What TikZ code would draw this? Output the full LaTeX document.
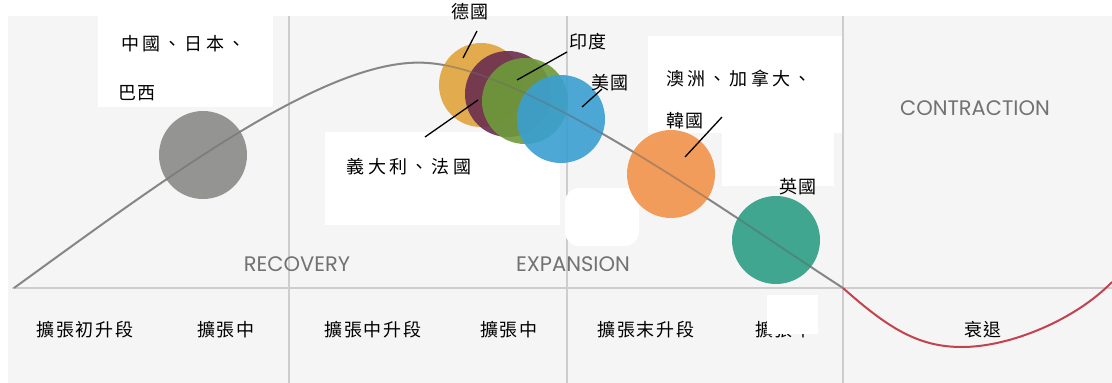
\documentclass[tikz,border=0pt]{standalone}
\usepackage{fontspec}
\newfontfamily\cjk{Noto Sans CJK TC}
\newfontfamily\gsans{Poppins}
\definecolor{bgpanel}{HTML}{F5F5F5}
\definecolor{gridc}{HTML}{CDCDCD}
\definecolor{curvec}{HTML}{9A9A9A}
\definecolor{redc}{HTML}{C4424E}
\definecolor{cgray}{HTML}{8A8A88}
\definecolor{cyel}{HTML}{E0A43C}
\definecolor{cpur}{HTML}{6A2E4E}
\definecolor{cgrn}{HTML}{6E9B3A}
\definecolor{cblu}{HTML}{3A9FD2}
\definecolor{cora}{HTML}{F1934B}
\definecolor{cteal}{HTML}{2E9E86}
\definecolor{phasec}{HTML}{727272}
\begin{document}
\begin{tikzpicture}[x=1pt,y=-1pt,
  lbl/.style={font=\cjk\fontsize{18}{18}\selectfont\addfontfeature{LetterSpace=10}, text=black, inner sep=0pt},
  lblwide/.style={font=\cjk\fontsize{18}{18}\selectfont\addfontfeature{LetterSpace=18}, text=black, inner sep=0pt},
  phase/.style={font=\gsans\fontsize{21}{21}\selectfont, text=phasec, inner sep=0pt},
  ball/.style={circle, minimum size=88pt, inner sep=0pt, draw=none, opacity=0.9},
  lead/.style={draw=black, line width=1.3pt},
  wbox/.style={fill=white, draw=none},
  gridline/.style={draw=gridc, line width=1.8pt}]
\useasboundingbox (0,0) rectangle (1112,383);
\fill[white] (0,0) rectangle (1112,383);
\fill[bgpanel] (8,16) rectangle (1112,383);
% grid
\draw[gridline] (289,16) -- (289,383);
\draw[gridline] (567,16) -- (567,383);
\draw[gridline] (843,16) -- (843,383);
\draw[gridline, line width=2.5pt] (12,288) -- (1112,288);
% white text boxes
\fill[wbox] (98,16) rectangle (273,107);
\fill[wbox] (325,132) rectangle (560,225);
\fill[wbox] (648,36) rectangle (842,133);
\fill[wbox] (722,133) rectangle (834,186);
\fill[wbox, rounded corners=14pt] (565,188) rectangle (639,246);
% phase labels
\node[phase] (rec) at (297,264) {RECOVERY};
\node[phase] (exp) at (573,264) {EXPANSION};
\node[phase] (con) at (975,108) {CONTRACTION};
% curve
\draw[curvec, line width=2pt] (14,288) .. controls (170,175) and (330,55) .. (428,63)
   .. controls (530,70) and (730,215) .. (843,288);
\draw[redc, line width=2pt] (843,288) .. controls (890,330) and (920,347) .. (962,347)
   .. controls (1010,347) and (1075,320) .. (1112,282);
% circles
\node[ball, fill=cgray] (cn) at (203,155) {};
\node[ball, fill=cyel, minimum size=84pt] (de) at (481,85) {};
\node[ball, fill=cpur, minimum size=86pt] (it) at (508,94) {};
\node[ball, fill=cgrn, minimum size=86pt] (in) at (525,101) {};
\node[ball, fill=cblu] (us) at (561,119) {};
\node[ball, fill=cora] (au) at (671,174) {};
\node[ball, fill=cteal] (uk) at (776,240) {};
% curve visible through circles
\draw[curvec!70!black, line width=1.6pt, opacity=0.45] (14,288) .. controls (170,175) and (330,55) .. (428,63)
   .. controls (530,70) and (730,215) .. (843,288);
% country labels
\node[lblwide, anchor=west] (lcn) at (121,44) {中國、日本、};
\node[lbl, anchor=west] (lbr) at (118,93) {巴西};
\node[lbl] (lde) at (470,12) {德國};
\node[lbl] (lin) at (588,42) {印度};
\node[lbl] (lus) at (610,83) {美國};
\node[lblwide] (lit) at (409,167) {義大利、法國};
\node[lblwide, anchor=west] (lau) at (666,78) {澳洲、加拿大、};
\node[lbl, anchor=west] (lkr) at (666,121) {韓國};
\node[lbl] (luk) at (798,187) {英國};
% leader lines
\coordinate (pde) at (463,58);
\coordinate (pin) at (517,80);
\coordinate (pus) at (582,107);
\coordinate (pit) at (478,100);
\coordinate (pau) at (685,157);
\coordinate (sde) at (477,31);
\coordinate (sin) at (567,52);
\coordinate (sus) at (602,89);
\coordinate (sit) at (425,137);
\coordinate (sau) at (722,117);
\draw[lead] (sde) -- (pde);
\draw[lead] (sin) -- (pin);
\draw[lead] (sus) -- (pus);
\draw[lead] (sit) -- (pit);
\draw[lead] (sau) -- (pau);
% bottom stage labels
\node[lbl] (b1) at (85,330) {擴張初升段};
\node[lbl] (b2) at (226,330) {擴張中};
\node[lbl] (b3) at (373,330) {擴張中升段};
\node[lbl] (b4) at (509,330) {擴張中};
\node[lbl] (b5) at (646,330) {擴張末升段};
\node[lbl] (b6) at (784,330) {擴張中};
\fill[wbox] (767,295) rectangle (818,334);
\node[lbl] (b7) at (983,330) {衰退};
\end{tikzpicture}
\end{document}
